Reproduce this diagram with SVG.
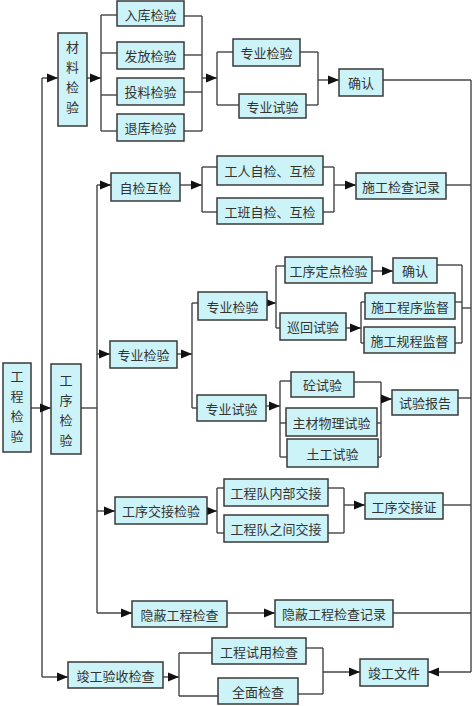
<svg xmlns="http://www.w3.org/2000/svg" width="474" height="706" viewBox="0 0 474 706">
<style>
.b{fill:#ccf3f7;stroke:#3a3a3a;stroke-width:1.5}
.t{font-family:"Noto Sans CJK SC","Noto Sans",sans-serif;font-size:13px;fill:#333;text-anchor:middle;dominant-baseline:central}
.v{font-family:"Noto Sans CJK SC","Noto Sans",sans-serif;font-size:13px;fill:#333;text-anchor:middle;dominant-baseline:central}
.c line,.c polyline{stroke:#444;stroke-width:1.4;fill:none}
.a{marker-end:url(#ar)}
</style>
<defs>
<marker id="ar" markerUnits="userSpaceOnUse" markerWidth="11" markerHeight="10" refX="11" refY="5" orient="auto">
<path d="M0,0.5 L11,5 L0,9.5 z" fill="#111"/>
</marker>
</defs>
<rect width="474" height="706" fill="#fff"/>
<g class="c" id="connectors">
<line x1="42" y1="78" x2="42" y2="677"/>
<line class="a" x1="42" y1="78" x2="58" y2="78"/>
<line class="a" x1="42" y1="677" x2="68" y2="677"/>
<line class="a" x1="31" y1="408" x2="51" y2="408"/>
<line class="a" x1="87" y1="78" x2="101" y2="78"/>
<line x1="101" y1="15" x2="101" y2="131"/>
<line x1="101" y1="15" x2="117" y2="15"/>
<line x1="101" y1="53" x2="117" y2="53"/>
<line x1="101" y1="95" x2="117" y2="95"/>
<line x1="101" y1="131" x2="117" y2="131"/>
<line x1="184" y1="16" x2="202" y2="16"/>
<line x1="184" y1="55" x2="202" y2="55"/>
<line x1="184" y1="92" x2="202" y2="92"/>
<line x1="184" y1="131" x2="202" y2="131"/>
<line x1="202" y1="16" x2="202" y2="131"/>
<line class="a" x1="202" y1="78" x2="217" y2="78"/>
<line x1="217" y1="52" x2="217" y2="105"/>
<line x1="217" y1="52" x2="233" y2="52"/>
<line x1="217" y1="105" x2="239" y2="105"/>
<line x1="300" y1="52" x2="318" y2="52"/>
<line x1="306" y1="105" x2="318" y2="105"/>
<line x1="318" y1="52" x2="318" y2="105"/>
<line class="a" x1="318" y1="80" x2="339" y2="80"/>
<line x1="383" y1="80" x2="471" y2="80"/>
<line x1="471" y1="80" x2="471" y2="672"/>
<line class="a" x1="471" y1="672" x2="428" y2="672"/>
<line x1="81" y1="408" x2="97" y2="408"/>
<line x1="97" y1="185" x2="97" y2="613"/>
<line class="a" x1="97" y1="185" x2="111" y2="185"/>
<line class="a" x1="180" y1="185" x2="202" y2="185"/>
<line x1="202" y1="167" x2="202" y2="212"/>
<line x1="202" y1="167" x2="217" y2="167"/>
<line x1="202" y1="212" x2="217" y2="212"/>
<line x1="323" y1="167" x2="334" y2="167"/>
<line x1="323" y1="212" x2="334" y2="212"/>
<line x1="334" y1="167" x2="334" y2="212"/>
<line class="a" x1="334" y1="185" x2="356" y2="185"/>
<line x1="446" y1="185" x2="471" y2="185"/>
<line class="a" x1="97" y1="354" x2="110" y2="354"/>
<line class="a" x1="177" y1="354" x2="192" y2="354"/>
<line x1="192" y1="303" x2="192" y2="408"/>
<line x1="192" y1="303" x2="198" y2="303"/>
<line x1="192" y1="408" x2="197" y2="408"/>
<line class="a" x1="267" y1="303" x2="276" y2="303"/>
<line x1="276" y1="266" x2="276" y2="328"/>
<line x1="276" y1="266" x2="285" y2="266"/>
<line x1="276" y1="328" x2="280" y2="328"/>
<line class="a" x1="372" y1="271" x2="393" y2="271"/>
<line x1="437" y1="265" x2="462" y2="265"/>
<line x1="462" y1="265" x2="462" y2="343"/>
<line x1="455" y1="302" x2="462" y2="302"/>
<line x1="455" y1="343" x2="462" y2="343"/>
<line x1="462" y1="308" x2="471" y2="308"/>
<line class="a" x1="346" y1="328" x2="361" y2="328"/>
<line x1="361" y1="302" x2="361" y2="343"/>
<line x1="361" y1="302" x2="365" y2="302"/>
<line x1="361" y1="343" x2="364" y2="343"/>
<line class="a" x1="266" y1="406" x2="280" y2="406"/>
<line x1="280" y1="381" x2="280" y2="457"/>
<line x1="280" y1="381" x2="291" y2="381"/>
<line x1="280" y1="423" x2="286" y2="423"/>
<line x1="280" y1="457" x2="287" y2="457"/>
<line x1="354" y1="382" x2="381" y2="382"/>
<line x1="377" y1="423" x2="381" y2="423"/>
<line x1="378" y1="457" x2="381" y2="457"/>
<line x1="381" y1="382" x2="381" y2="457"/>
<line class="a" x1="381" y1="399" x2="392" y2="399"/>
<line x1="458" y1="398" x2="471" y2="398"/>
<line class="a" x1="97" y1="511" x2="115" y2="511"/>
<line class="a" x1="207" y1="511" x2="217" y2="511"/>
<line x1="217" y1="488" x2="217" y2="533"/>
<line x1="217" y1="488" x2="224" y2="488"/>
<line x1="217" y1="533" x2="224" y2="533"/>
<line x1="328" y1="488" x2="344" y2="488"/>
<line x1="328" y1="533" x2="344" y2="533"/>
<line x1="344" y1="488" x2="344" y2="533"/>
<line class="a" x1="344" y1="505" x2="365" y2="505"/>
<line x1="443" y1="505" x2="471" y2="505"/>
<line class="a" x1="97" y1="613" x2="132" y2="613"/>
<line class="a" x1="227" y1="613" x2="275" y2="613"/>
<line x1="393" y1="613" x2="471" y2="613"/>
<line class="a" x1="163" y1="677" x2="179" y2="677"/>
<line x1="179" y1="653" x2="179" y2="696"/>
<line x1="179" y1="653" x2="212" y2="653"/>
<line x1="179" y1="696" x2="218" y2="696"/>
<line x1="306" y1="648" x2="323" y2="648"/>
<line x1="298" y1="694" x2="323" y2="694"/>
<line x1="323" y1="648" x2="323" y2="694"/>
<line class="a" x1="323" y1="672" x2="360" y2="672"/>
</g>
<g id="gcjy"><rect class="b" x="3" y="363" width="28" height="89"/><text class="v" x="17" y="375">工</text><text class="v" x="17" y="395">程</text><text class="v" x="17" y="415">检</text><text class="v" x="17" y="435">验</text></g>
<g id="cljy"><rect class="b" x="58" y="33" width="29" height="93"/><text class="v" x="72.5" y="46">材</text><text class="v" x="72.5" y="66">料</text><text class="v" x="72.5" y="86">检</text><text class="v" x="72.5" y="106">验</text></g>
<g id="gxjy"><rect class="b" x="51" y="364" width="30" height="90"/><text class="v" x="66" y="379">工</text><text class="v" x="66" y="399">序</text><text class="v" x="66" y="419">检</text><text class="v" x="66" y="439">验</text></g>
<g id="rk"><rect class="b" x="117" y="1" width="67" height="25"/><text class="t" x="150.5" y="14">入库检验</text></g>
<g id="ff"><rect class="b" x="117" y="42" width="67" height="27"/><text class="t" x="150.5" y="55.5">发放检验</text></g>
<g id="tl"><rect class="b" x="117" y="78" width="67" height="27"/><text class="t" x="150.5" y="91.5">投料检验</text></g>
<g id="tk"><rect class="b" x="117" y="114" width="67" height="27"/><text class="t" x="150.5" y="127.5">退库检验</text></g>
<g id="zyjy1"><rect class="b" x="233" y="39" width="67" height="27"/><text class="t" x="266.5" y="52.5">专业检验</text></g>
<g id="zysy1"><rect class="b" x="239" y="94" width="67" height="24"/><text class="t" x="272.5" y="106">专业试验</text></g>
<g id="qr1"><rect class="b" x="339" y="69" width="44" height="27"/><text class="t" x="361" y="82.5">确认</text></g>
<g id="zjhj"><rect class="b" x="111" y="173" width="69" height="28"/><text class="t" x="145.5" y="187">自检互检</text></g>
<g id="grzj"><rect class="b" x="217" y="156" width="106" height="29"/><text class="t" x="270" y="170.5">工人自检、互检</text></g>
<g id="gbzj"><rect class="b" x="217" y="198" width="106" height="26"/><text class="t" x="270" y="211">工班自检、互检</text></g>
<g id="sgjcjl"><rect class="b" x="356" y="173" width="90" height="26"/><text class="t" x="401" y="186">施工检查记录</text></g>
<g id="zyjy2"><rect class="b" x="110" y="341" width="67" height="27"/><text class="t" x="143.5" y="354.5">专业检验</text></g>
<g id="zyjy3"><rect class="b" x="198" y="292" width="69" height="28"/><text class="t" x="232.5" y="306">专业检验</text></g>
<g id="gxddjy"><rect class="b" x="285" y="257" width="87" height="26"/><text class="t" x="328.5" y="270">工序定点检验</text></g>
<g id="qr2"><rect class="b" x="393" y="258" width="44" height="25"/><text class="t" x="415" y="270.5">确认</text></g>
<g id="xhsy"><rect class="b" x="280" y="313" width="66" height="27"/><text class="t" x="313" y="326.5">巡回试验</text></g>
<g id="sgcxjd"><rect class="b" x="365" y="293" width="90" height="26"/><text class="t" x="410" y="306">施工程序监督</text></g>
<g id="sggcjd"><rect class="b" x="364" y="327" width="91" height="26"/><text class="t" x="409.5" y="340">施工规程监督</text></g>
<g id="zysy2"><rect class="b" x="197" y="395" width="69" height="26"/><text class="t" x="231.5" y="408">专业试验</text></g>
<g id="tsy"><rect class="b" x="291" y="372" width="63" height="25"/><text class="t" x="322.5" y="384.5">砼试验</text></g>
<g id="zcwlsy"><rect class="b" x="286" y="408" width="91" height="28"/><text class="t" x="331.5" y="422">主材物理试验</text></g>
<g id="tgsy"><rect class="b" x="287" y="439" width="91" height="28"/><text class="t" x="332.5" y="453">土工试验</text></g>
<g id="sybg"><rect class="b" x="392" y="390" width="66" height="25"/><text class="t" x="425" y="402.5">试验报告</text></g>
<g id="gxjjjy"><rect class="b" x="115" y="497" width="92" height="27"/><text class="t" x="161" y="510.5">工序交接检验</text></g>
<g id="gcdnbjj"><rect class="b" x="224" y="479" width="104" height="27"/><text class="t" x="276" y="492.5">工程队内部交接</text></g>
<g id="gcdzjjj"><rect class="b" x="224" y="515" width="104" height="27"/><text class="t" x="276" y="528.5">工程队之间交接</text></g>
<g id="gxjjz"><rect class="b" x="365" y="493" width="78" height="26"/><text class="t" x="404" y="506">工序交接证</text></g>
<g id="ybgcjc"><rect class="b" x="132" y="601" width="95" height="26"/><text class="t" x="179.5" y="614">隐蔽工程检查</text></g>
<g id="ybgcjcjl"><rect class="b" x="275" y="600" width="118" height="27"/><text class="t" x="334" y="613.5">隐蔽工程检查记录</text></g>
<g id="jgysjc"><rect class="b" x="68" y="662" width="95" height="26"/><text class="t" x="115.5" y="675">竣工验收检查</text></g>
<g id="gcsyjc"><rect class="b" x="212" y="638" width="94" height="26"/><text class="t" x="259" y="651">工程试用检查</text></g>
<g id="qmjc"><rect class="b" x="218" y="678" width="80" height="26"/><text class="t" x="258" y="691">全面检查</text></g>
<g id="jgwj"><rect class="b" x="360" y="659" width="68" height="27"/><text class="t" x="394" y="672.5">竣工文件</text></g>
</svg>
